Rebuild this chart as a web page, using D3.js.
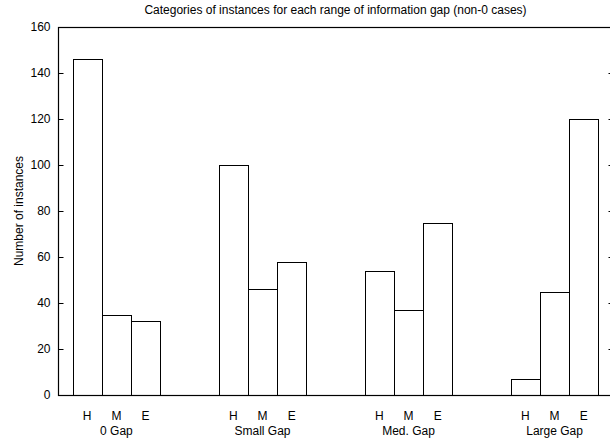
<!DOCTYPE html>
<html><head><meta charset="utf-8">
<script src="https://cdn.jsdelivr.net/npm/d3@7"></script>
<style>body{margin:0;background:#fff;} text{font-family:"Liberation Sans",Arial,sans-serif;fill:#000;}</style>
</head><body>
<svg id="c" width="610" height="443"></svg>
<script>
const groups = ["0 Gap", "Small Gap", "Med. Gap", "Large Gap"];
const seriesNames = ["H", "M", "E"];
const valuesH = [146, 100, 54, 7];
const valuesM = [35, 46, 37, 45];
const valuesE = [32, 58, 75, 120];
const yTicks = [0, 20, 40, 60, 80, 100, 120, 140, 160];
const title = "Categories of instances for each range of information gap (non-0 cases)";
const yTitle = "Number of instances";

const svg = d3.select("#c");
const L = 58, R = 613, T = 27, B = 395;
const FS = 12;
const x = d3.scaleLinear().domain([-0.4, 3.4]).range([L, R]);
const y = d3.scaleLinear().domain([0, 160]).range([B, T]);
const series = [valuesH, valuesM, valuesE];
const bw = 0.2;

// bars
const data = [];
groups.forEach((g, gi) => series.forEach((s, si) => data.push({g: gi, s: si, v: s[gi]})));
svg.append("g").selectAll("rect").data(data).join("rect")
  .attr("x", d => Math.round(x(d.g + (d.s - 1) * bw - bw / 2)) + 0.5)
  .attr("y", d => Math.round(y(d.v)) + 0.5)
  .attr("width", d => Math.round(x(d.g + (d.s - 1) * bw + bw / 2)) - Math.round(x(d.g + (d.s - 1) * bw - bw / 2)))
  .attr("height", d => Math.round(y(0)) - Math.round(y(d.v)))
  .attr("fill", "none").attr("stroke", "#000").attr("stroke-width", 1);

// frame
svg.append("rect").attr("x", L + 0.5).attr("y", T + 0.5).attr("width", R - L).attr("height", B - T)
  .attr("fill", "none").attr("stroke", "#000").attr("stroke-width", 1.2);

// y ticks (inward, both sides)
const yAxisL = d3.axisLeft(y).tickValues(yTicks).tickSize(-5).tickPadding(8);
const gL = svg.append("g").attr("transform", `translate(${L + 0.5},0)`).call(yAxisL);
gL.select(".domain").remove();
gL.selectAll("text").attr("font-size", FS).attr("font-family", "Liberation Sans, Arial, sans-serif").attr("fill", "#000");
gL.selectAll("line").attr("stroke", "#000");
const yAxisR = d3.axisRight(y).tickValues(yTicks).tickSize(-5).tickFormat("");
const gR = svg.append("g").attr("transform", `translate(${R + 0.5},0)`).call(yAxisR);
gR.select(".domain").remove();
gR.selectAll("line").attr("stroke", "#000");

// x series labels
data.forEach(d => {
  svg.append("text").attr("x", x(d.g + (d.s - 1) * bw)).attr("y", 420)
    .attr("text-anchor", "middle").attr("font-size", FS).text(seriesNames[d.s]);
});
groups.forEach((g, gi) => {
  svg.append("text").attr("x", x(gi)).attr("y", 435)
    .attr("text-anchor", "middle").attr("font-size", FS).text(g);
});

// title
svg.append("text").attr("x", (L + R) / 2).attr("y", 14).attr("text-anchor", "middle")
  .attr("font-size", FS).text(title);
// y title
svg.append("text").attr("transform", `translate(23,${(T + B) / 2}) rotate(-90)`)
  .attr("text-anchor", "middle").attr("font-size", FS).text(yTitle);
</script>
</body></html>
